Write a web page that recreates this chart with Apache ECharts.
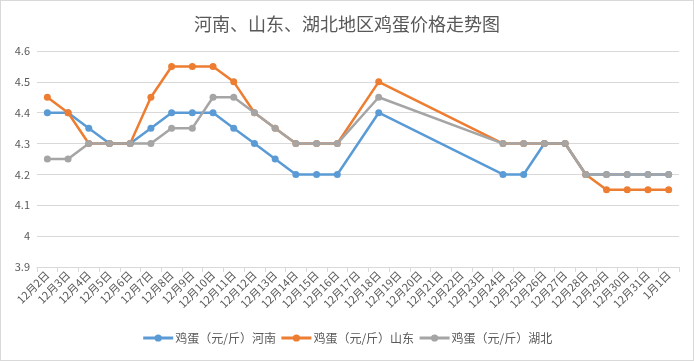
<!DOCTYPE html>
<html><head><meta charset="utf-8">
<script src="https://cdn.jsdelivr.net/npm/echarts@6/dist/echarts.min.js"></script>
<style>
html,body{margin:0;padding:0;background:#fff;}
#c{position:absolute;left:0;top:0;width:692px;height:359px;border:1px solid #d9d9d9;}
</style></head>
<body><div id="c"></div>
<script>
const categories = ['12月2日','12月3日','12月4日','12月5日','12月6日','12月7日','12月8日','12月9日','12月10日','12月11日','12月12日','12月13日','12月14日','12月15日','12月16日','12月17日','12月18日','12月19日','12月20日','12月21日','12月22日','12月23日','12月24日','12月25日','12月26日','12月27日','12月28日','12月29日','12月30日','12月31日','1月1日'];
const henan = [4.4,4.4,4.35,4.3,4.3,4.35,4.4,4.4,4.4,4.35,4.3,4.25,4.2,4.2,4.2,null,4.4,null,null,null,null,null,4.2,4.2,4.3,4.3,4.2,4.2,4.2,4.2,4.2];
const shandong = [4.45,4.4,4.3,4.3,4.3,4.45,4.55,4.55,4.55,4.5,4.4,4.35,4.3,4.3,4.3,null,4.5,null,null,null,null,null,4.3,4.3,4.3,4.3,4.2,4.15,4.15,4.15,4.15];
const hubei = [4.25,4.25,4.3,4.3,4.3,4.3,4.35,4.35,4.45,4.45,4.4,4.35,4.3,4.3,4.3,null,4.45,null,null,null,null,null,4.3,4.3,4.3,4.3,4.2,4.2,4.2,4.2,4.2];
const seriesNames = ['鸡蛋（元/斤）河南','鸡蛋（元/斤）山东','鸡蛋（元/斤）湖北'];
const colors = ['#5B9BD5','#ED7D31','#A5A5A5'];
const font = 'Microsoft YaHei, "Noto Sans CJK SC", sans-serif';
const chart = echarts.init(document.getElementById('c'));
const mk = (name, data, color) => ({
  name, type:'line', data, connectNulls:true, symbol:'circle', symbolSize:7,
  itemStyle:{color}, lineStyle:{color, width:2.5}, emphasis:{disabled:true}, z: 2
});
chart.setOption({
  animation:false,
  title:{text:'河南、山东、湖北地区鸡蛋价格走势图', left:'center', top:9,
    textStyle:{fontSize:18, fontWeight:'normal', color:'#595959', fontFamily:font}},
  grid:{left:36, right:14, top:50, bottom:93},
  legend:{bottom:11, left:'center', itemWidth:30, itemHeight:9, itemGap:4,
    lineStyle:{width:3},
    textStyle:{fontSize:12, color:'#595959', fontFamily:font, padding:[0,0,0,-3]},
    data: seriesNames},
  xAxis:{type:'category', data:categories, boundaryGap:true,
    axisLine:{lineStyle:{color:'#d9d9d9'}},
    axisTick:{show:true, length:5, lineStyle:{color:'#d9d9d9'}},
    axisLabel:{rotate:45, interval:0, fontSize:11, color:'#595959', fontFamily:font, margin:6}},
  yAxis:{type:'value', min:3.9, max:4.6, interval:0.1,
    axisLine:{show:false}, axisTick:{show:false},
    splitLine:{lineStyle:{color:'#d9d9d9'}},
    axisLabel:{fontSize:11, color:'#595959', fontFamily:font, margin:7,
      formatter:v=>String(Math.round(v*10)/10)}},
  series:[mk(seriesNames[0],henan,colors[0]), mk(seriesNames[1],shandong,colors[1]), mk(seriesNames[2],hubei,colors[2])]
});
</script></body></html>
